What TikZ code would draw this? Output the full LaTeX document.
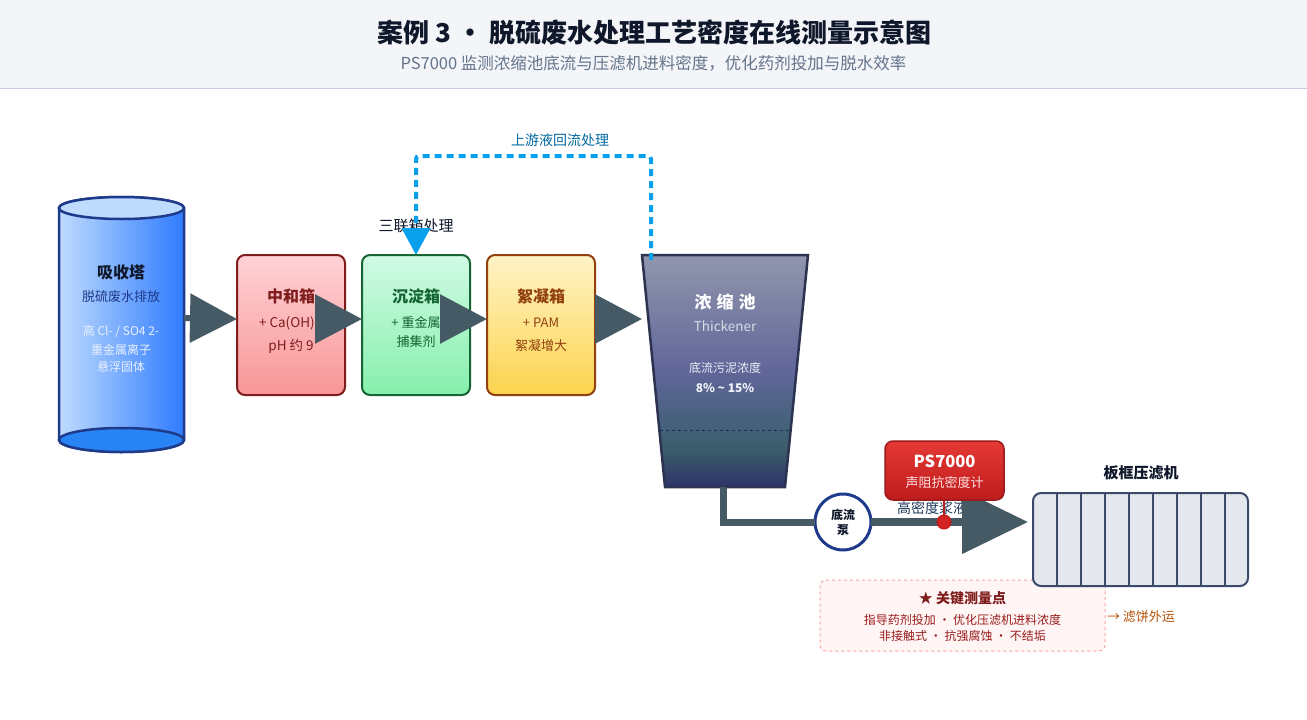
\documentclass[tikz,border=0pt]{standalone}
\usepackage{fontspec}
\setmainfont{Noto Sans CJK SC}
\usetikzlibrary{arrows.meta,shadings,calc}
\newcommand{\fsz}[1]{\fontsize{#1}{#1}\selectfont}
\definecolor{flowc}{HTML}{455A64}
\definecolor{backc}{HTML}{0AA0EC}
\definecolor{HTMLslate}{HTML}{3B4A6B}
\pgfdeclareverticalshading{thickshadeB}{100bp}{
  rgb(0bp)=(0.18,0.20,0.41);
  rgb(25bp)=(0.18,0.20,0.41);
  rgb(33bp)=(0.23,0.36,0.42);
  rgb(37.5bp)=(0.26,0.38,0.47);
  rgb(50bp)=(0.38,0.40,0.60);
  rgb(75bp)=(0.57,0.59,0.68);
  rgb(100bp)=(0.57,0.59,0.68)
}
\tikzset{
  txt/.style={inner sep=0pt,outer sep=0pt,align=center},
  tank/.style={rounded corners=8pt,line width=2pt,inner sep=0pt,outer sep=0pt,minimum width=108pt,minimum height=140pt},
  flow/.style={draw=flowc,line width=6pt,-{Triangle[length=47pt,width=48pt]}},
  back/.style={draw=backc,line width=4pt,dash pattern=on 7pt off 5pt,rounded corners=3pt},
  plate/.style={draw=HTMLslate,line width=2pt}
}
\begin{document}
\begin{tikzpicture}[x=1pt,y=-1pt]
\useasboundingbox (0,0) rectangle (1307,720);
\fill[white] (0,0) rectangle (1307,720);
% header
\fill[fill={rgb,255:red,244;green,245;blue,249}] (0,0) rectangle (1307,88);
\draw[color={rgb,255:red,200;green,204;blue,232},line width=1pt] (0,88) -- (1307,88);
\node[txt,font=\fsz{26}\bfseries,text={rgb,255:red,15;green,23;blue,42}] (title) at (654.5,33) {案例 3 · 脱硫废水处理工艺密度在线测量示意图};
\node[txt,font=\fsz{16.5},text={rgb,255:red,100;green,116;blue,139}] (subtitle) at (653.5,63) {PS7000 监测浓缩池底流与压滤机进料密度，优化药剂投加与脱水效率};
% absorber tower
\node[inner sep=0pt,outer sep=0pt,minimum width=125pt,minimum height=232pt] (tower) at (121.5,324) {};
\draw[line width=2.5pt,draw={rgb,255:red,30;green,58;blue,138},left color={rgb,255:red,191;green,219;blue,254},right color={rgb,255:red,47;green,123;blue,255}]
  (tower.north west) -- (tower.south west) arc[start angle=180,end angle=360,x radius=62.5pt,y radius=12pt] -- (tower.north east) arc[start angle=0,end angle=180,x radius=62.5pt,y radius=11pt] -- cycle;
\draw[line width=2.5pt,draw={rgb,255:red,30;green,58;blue,138},fill={rgb,255:red,40;green,132;blue,245}] (tower.south) ellipse[x radius=62.5pt,y radius=12pt];
\draw[line width=2.5pt,draw={rgb,255:red,30;green,58;blue,138},fill={rgb,255:red,191;green,219;blue,254}] (tower.north) ellipse[x radius=62.5pt,y radius=11pt];
\node[txt,font=\fsz{16}\bfseries,text={rgb,255:red,15;green,23;blue,42}] (t1) at (121,272) {吸收塔};
\node[txt,font=\fsz{13},text={rgb,255:red,30;green,58;blue,138}] (t2) at (121,297) {脱硫废水排放};
\node[txt,font=\fsz{12},text={rgb,255:red,232;green,240;blue,255}] (t3) at (121,332) {高 Cl- / SO4 2-};
\node[txt,font=\fsz{12},text={rgb,255:red,232;green,240;blue,255}] (t4) at (121,350) {重金属离子};
\node[txt,font=\fsz{12},text={rgb,255:red,232;green,240;blue,255}] (t5) at (121,367) {悬浮固体};
% tanks
\node[tank,draw={rgb,255:red,127;green,29;blue,29},top color={rgb,255:red,255;green,210;blue,214},bottom color={rgb,255:red,248;green,150;blue,150}] (neut) at (291,325) {};
\node[tank,draw={rgb,255:red,22;green,101;blue,52},top color={rgb,255:red,209;green,250;blue,229},bottom color={rgb,255:red,134;green,239;blue,172}] (settle) at (416,325) {};
\node[tank,draw={rgb,255:red,146;green,64;blue,14},top color={rgb,255:red,254;green,243;blue,199},bottom color={rgb,255:red,252;green,211;blue,77}] (floc) at (541,325) {};
\node[txt,font=\fsz{16}\bfseries,text={rgb,255:red,127;green,29;blue,29}] (n1) at (291,296) {中和箱};
\node[txt,anchor=west,font=\fsz{13.5},text={rgb,255:red,127;green,29;blue,29}] (n2) at (259,323) {+ Ca(OH)};
\node[txt,font=\fsz{13.5},text={rgb,255:red,127;green,29;blue,29}] (n3) at (291,346) {pH 约 9};
\node[txt,font=\fsz{16}\bfseries,text={rgb,255:red,22;green,101;blue,52}] (s1) at (416,296) {沉淀箱};
\node[txt,font=\fsz{13},text={rgb,255:red,22;green,101;blue,52}] (s2) at (416,323) {+ 重金属};
\node[txt,font=\fsz{13},text={rgb,255:red,22;green,101;blue,52}] (s3) at (416,342) {捕集剂};
\node[txt,font=\fsz{16}\bfseries,text={rgb,255:red,146;green,64;blue,14}] (f1) at (541,296) {絮凝箱};
\node[txt,font=\fsz{13},text={rgb,255:red,146;green,64;blue,14}] (f2) at (541,323) {+ PAM};
\node[txt,font=\fsz{13},text={rgb,255:red,146;green,64;blue,14}] (f3) at (541,346) {絮凝增大};
% thickener
\node[inner sep=0pt,outer sep=0pt,minimum width=166pt,minimum height=232pt] (thick) at (725,371) {};
\draw[line width=2.5pt,draw={rgb,255:red,43;green,51;blue,80},line join=miter,shading=thickshadeB]
  (thick.north west) -- (thick.north east) -- ([xshift=-23pt]thick.south east) -- ([xshift=23pt]thick.south west) -- cycle;
\coordinate (lvl) at (725,430);
\draw[dashed,line width=1pt,draw={rgb,255:red,35;green,40;blue,85}] (lvl -| 660,0) -- (lvl -| 791,0);
\node[txt,font=\fsz{17}\bfseries,text=white] (k1) at (725,302) {浓\hspace{5pt}缩\hspace{5pt}池};
\node[txt,font=\fsz{13.5},text={rgb,255:red,215;green,220;blue,230}] (k2) at (725,326) {Thickener};
\node[txt,font=\fsz{12},text={rgb,255:red,235;green,238;blue,245}] (k3) at (725,368) {底流污泥浓度};
\node[txt,font=\fsz{12}\bfseries,text={rgb,255:red,240;green,243;blue,250}] (k4) at (725,388) {8\% \char`\~{} 15\%};
% note
\node[rounded corners=6pt,draw={rgb,255:red,252;green,165;blue,165},dashed,line width=1pt,fill={rgb,255:red,255;green,245;blue,245},inner sep=0pt,outer sep=0pt,minimum width=285pt,minimum height=71pt] (note) at (962.5,615.5) {};
\node[txt,font=\fsz{14}\bfseries,text={rgb,255:red,127;green,29;blue,29}] (nt1) at (962.5,598) {★ 关键测量点};
\node[txt,font=\fsz{12},text={rgb,255:red,153;green,27;blue,27}] (nt2) at (962.5,620) {指导药剂投加 · 优化压滤机进料浓度};
\node[txt,font=\fsz{12},text={rgb,255:red,153;green,27;blue,27}] (nt3) at (962.5,636) {非接触式 · 抗强腐蚀 · 不结垢};
% filter press
\node[rounded corners=8pt,draw=HTMLslate,line width=2pt,fill={rgb,255:red,228;green,231;blue,236},inner sep=0pt,outer sep=0pt,minimum width=215pt,minimum height=93pt] (press) at (1140.5,539.5) {};
\foreach \px in {1057,1081,1105,1129,1153,1177,1201,1225}
  \draw[plate] (press.north -| \px,0) -- (press.south -| \px,0);
\node[txt,font=\fsz{15}\bfseries,text={rgb,255:red,15;green,23;blue,42}] (p1) at (1141,473) {板框压滤机};
\node[txt,anchor=west,font=\fsz{13},text={rgb,255:red,180;green,83;blue,9}] (cake) at (1107,617) {→ 滤饼外运};
% labels below arrows
\node[txt,font=\fsz{15},text={rgb,255:red,15;green,23;blue,42}] (l3) at (416,226) {三联箱处理};
\node[txt,font=\fsz{14},text={rgb,255:red,3;green,105;blue,161}] (lb) at (560,140) {上游液回流处理};
\node[txt,anchor=west,font=\fsz{14},text={rgb,255:red,30;green,58;blue,90}] (l5) at (897,508) {高密度浆液};
% pump
\node[circle,draw={rgb,255:red,30;green,58;blue,138},line width=3pt,fill=white,inner sep=0pt,outer sep=0pt,minimum size=56pt,align=center,font=\fsz{12}\bfseries,text={rgb,255:red,15;green,23;blue,42}] (pump) at (843,522) {底流\\[3pt]泵};
% connectors
\draw[flow] ([yshift=6pt]tower.east) -- ([yshift=6pt]neut.west);
\draw[flow] ([yshift=6pt]neut.east) -- ([yshift=6pt]settle.west);
\draw[flow] ([yshift=6pt]settle.east) -- ([yshift=6pt]floc.west);
\draw[flow] ([yshift=6pt]floc.east) -- ([yshift=6pt]floc.east -| thick.west);
\draw[draw=flowc,line width=7pt,line join=miter] (thick.south) ++(-2,0) coordinate (pipetop) -- (pipetop |- pump.west) -- (pump.west);
\draw[draw=flowc,line width=8pt,shorten >=5pt,-{Triangle[length=66pt,width=62pt]}] (pump.east) -- (pump.east -| press.west);
\draw[back,-{Triangle[length=27pt,width=28pt]}] ([xshift=-74pt,yshift=-5pt]thick.north) |- (480,156) -| (settle.north);
% density meter
\node[circle,fill={rgb,255:red,211;green,34;blue,34},draw={rgb,255:red,185;green,28;blue,28},line width=1pt,inner sep=0pt,outer sep=0pt,minimum size=14pt] (dot) at (944,522) {};
\node[rounded corners=8pt,draw={rgb,255:red,153;green,27;blue,27},line width=1.5pt,top color={rgb,255:red,229;green,57;blue,53},bottom color={rgb,255:red,190;green,28;blue,28},inner sep=0pt,outer sep=0pt,minimum width=119pt,minimum height=59pt] (ps) at (944.5,470.5) {};
\draw[draw={rgb,255:red,185;green,28;blue,28},line width=2pt] (dot) -- (dot |- ps.south);
\node[txt,font=\fsz{16.5}\bfseries,text=white] (ps1) at (944.5,461) {PS7000};
\node[txt,font=\fsz{13},text={rgb,255:red,254;green,226;blue,226}] (ps2) at (944.5,483) {声阻抗密度计};
\end{tikzpicture}
\end{document}
